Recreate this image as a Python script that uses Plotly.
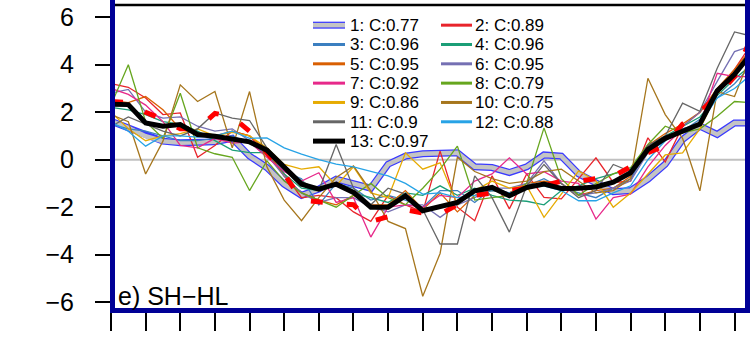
import plotly.graph_objects as go

# ---------------- data ----------------
x_index = list(range(38))

s1 = [1.62, 1.34, 0.99, 0.78, 0.71, 0.71, 0.75, 0.9, 0.15, -0.33, -1.03, -1.5, -1.24, -0.82, -1.03, -1.2,
      -0.19, 0.15, 0.25, 0.29, 0.29, -0.3, -0.33, -0.54, -0.3, 0.2, 0.15, -0.6, -1.0, -1.35, -1.3, -0.82,
      -0.19, 0.85, 1.41, 1.06, 1.55, 1.55]
s2 = [3.2, 3.05, 2.6, 1.9, 1.97, 0.1, 0.6, 1.2, 1.0, 0.2, -0.6, -1.6, -1.5, -1.6, -2.2, -2.6, -1.5, -1.9,
      -2.2, 0.36, -2.0, -2.57, -0.68, -2.07, -0.6, -1.59, -1.65, -0.8, 0.08, -0.96, -0.9, 0.92, -0.1, 1.4,
      2.0, 2.9, 3.8, 4.9]
s3 = [1.5, 1.3, 1.2, 1.0, 0.8, 0.8, 0.9, 1.0, 0.7, 0.2, -0.5, -0.8, -1.9, -1.0, -1.2, -1.7, -1.5, -1.7,
      -2.0, -1.3, -1.3, -1.8, -1.2, -1.4, -1.1, -0.8, -1.2, -1.4, -1.6, -1.2, -0.8, 0.4, 0.9, 1.2, 1.7,
      2.6, 3.2, 4.0]
s4 = [2.2, 2.1, 1.9, 1.6, 1.5, 1.2, 0.8, 0.4, 0.3, 0.3, -0.6, -1.2, -1.3, -1.0, -1.4, -1.6, -1.8, -1.4,
      -1.5, -1.1, -1.5, -1.2, -1.5, -1.7, -1.75, -1.9, -1.3, -1.1, -0.8, -0.6, -0.4, 0.6, 1.0, 1.4, 1.8,
      2.7, 3.4, 4.0]
s5 = [2.5, 2.4, 2.66, 2.1, 1.3, 1.1, 1.0, 1.2, 1.0, 0.4, -0.7, -1.4, -1.7, -1.9, -1.5, -1.9, -1.9, -1.3,
      -2.1, -1.4, -2.2, -1.5, -1.3, -1.4, -1.0, -0.9, -1.0, -1.5, -1.3, -1.2, -0.7, 0.6, 1.1, 1.5, 2.0,
      3.0, 3.8, 4.7]
s6 = [2.8, 2.96, 2.0, 1.75, 1.8, 1.41, 1.2, 1.3, 0.8, 0.2, -0.7, -1.4, -1.8, -1.6, -1.6, -2.0, -2.2, -1.9,
      -1.9, -2.43, -1.9, -1.6, -1.2, -1.2, -1.0, -0.05, -1.0, -1.5, -1.4, -1.2, -0.9, 0.3, 0.8, 1.4, 2.0,
      3.3, 4.55, 4.8]
s7 = [3.0, 2.75, 2.3, 1.6, 0.6, 0.5, 0.9, 0.7, 0.75, 0.1, -0.5, -0.9, -0.55, -1.8, -1.6, -3.26, -2.0, -1.9,
      -2.0, -1.5, -1.6, -0.9, -0.6, 0.08, -0.6, -0.5, -0.9, -1.0, -2.5, -1.6, -1.45, -0.3, 0.6, 1.3, 1.5,
      3.64, 3.5, 3.5]
s8 = [2.3, 4.0, 1.6, 0.9, 2.8, 0.5, 0.25, 0.1, -1.3, -0.05, -0.9, -1.4, -1.7, -2.0, -1.5, -1.0, -1.6, -1.9,
      -1.2, -0.4, 0.57, -1.7, -1.6, -1.5, -1.0, 1.34, -0.8, -1.5, -1.0, -0.6, -0.33, 0.64, 1.41, 1.13, 1.3,
      1.83, 2.45, 2.4]
s9 = [2.0, 1.3, 0.8, 1.0, 1.1, 1.3, 1.0, 1.15, 1.0, 0.5, -0.2, -0.4, -0.3, -1.1, -0.3, -1.4, -1.6, 0.29,
      -0.4, -0.13, -1.9, -1.3, -0.9, -1.2, -1.1, -2.43, -1.45, -0.47, -0.9, -2.0, -1.4, -0.6, 0.2, 0.29,
      1.3, 2.8, 3.6, 4.4]
s10 = [1.9, 1.6, -0.6, 0.78, 3.15, 2.45, 2.87, 0.5, 2.87, -0.3, -1.7, -2.57, -1.6, -0.75, -0.26, -1.31,
       -2.6, -2.9, -5.75, -3.95, 0.1, -0.5, -0.8, -1.0, -0.9, -0.5, -0.4, -0.9, -1.4, -1.3, -0.8, 3.43,
       1.9, 0.9, -1.31, 2.87, 2.66, 4.5]
s11 = [1.4, 1.8, 1.5, 1.2, 1.0, 1.3, 1.97, 1.75, 1.65, 0.5, -0.3, -0.9, -1.3, 0.64, -1.2, -1.9, -1.2, -1.45,
       -2.1, -3.55, -3.55, -0.68, -1.6, -3.05, -1.1, -0.2, -1.0, -1.6, -1.3, -0.2, -0.5, 0.6, 1.0, 2.38,
       2.04, 3.85, 5.38, 5.2]
s12 = [1.6, 1.2, 0.57, 1.0, 1.0, 0.95, 1.0, 1.2, 0.9, 0.92, 0.5, 0.23, 0.0, -0.19, -0.3, -0.5, -0.68, -1.0,
       -1.45, -1.4, -1.6, -1.5, -1.3, -1.4, -1.2, -1.1, -1.3, -1.73, -1.73, -1.4, -1.1, 0.0, 0.8, 1.3, 1.5,
       2.6, 3.0, 3.6]
s13 = [2.34, 2.32, 1.55, 1.41, 1.48, 1.06, 0.99, 0.85, 0.75, 0.4, -0.35, -1.03, -1.24, -1.03, -1.38, -2.0,
       -2.0, -1.52, -2.15, -2.0, -1.8, -1.31, -1.17, -1.52, -1.17, -1.03, -1.21, -1.2, -1.15, -0.95, -0.55,
       0.43, 0.9, 1.2, 1.5, 2.9, 3.6, 4.5]
obs = [2.45, 2.4, 2.0, 1.7, 1.3, 1.3, 1.95, 1.8, 1.2, 0.3, -0.6, -1.7, -1.8, -1.85, -1.9, -2.6, -2.4, -2.1,
       -2.25, -2.3, -1.9, -1.5, -1.4, -1.3, -1.2, -1.1, -0.9, -0.9, -0.8, -0.7, -0.3, 0.3, 0.6, 1.5, 2.0,
       2.7, 3.5, 5.2]

labels = ["1: C:0.77", "2: C:0.89", "3: C:0.96", "4: C:0.96", "5: C:0.95", "6: C:0.95", "7: C:0.92",
          "8: C:0.79", "9: C:0.86", "10: C:0.75", "11: C:0.9", "12: C:0.88", "13: C:0.97"]
thin_series = [s2, s3, s4, s5, s6, s7, s8, s9, s10, s11, s12]
thin_colors = ["#e8242b", "#3b7fc0", "#1b9e77", "#d95f02", "#7570b3", "#e7298a", "#66a61e",
               "#e6ab02", "#a6761d", "#666666", "#27a3e6"]
y_ticks = [-6, -4, -2, 0, 2, 4, 6]
x_ticks = list(range(0, 38, 2))
panel_label = "e) SH\u2212HL"

# ---------------- figure ----------------
W, H = 753, 346
L, R, T, B = 111, 6, 3, 35
PW, PH = W - L - R, H - T - B
FONT = "Liberation Sans, Arial, Helvetica, sans-serif"


def px(xp):
    return (xp - L) / PW


def py(yp):
    return (H - B - yp) / PH


fig = go.Figure()

# series 1: gray band with blue outline
fig.add_trace(go.Scatter(x=x_index, y=s1, mode="lines", line=dict(color="#3a3aff", width=7),
                         hoverinfo="skip", showlegend=False))
fig.add_trace(go.Scatter(x=x_index, y=s1, mode="lines", line=dict(color="#c4c4c4", width=4.5),
                         name=labels[0], showlegend=False))
for ser, col, lab in zip(thin_series, thin_colors, labels[1:12]):
    fig.add_trace(go.Scatter(x=x_index, y=ser, mode="lines", line=dict(color=col, width=1.3),
                             name=lab, showlegend=False))
fig.add_trace(go.Scatter(x=x_index, y=obs, mode="lines",
                         line=dict(color="#ff0000", width=5, dash="12px,24px"),
                         name="obs", showlegend=False))
fig.add_trace(go.Scatter(x=x_index, y=s13, mode="lines", line=dict(color="black", width=5),
                         name=labels[12], showlegend=False))

shapes = []
# zero line
shapes.append(dict(type="line", xref="paper", yref="y", x0=0, x1=1, y0=0, y1=0,
                   line=dict(color="#c0c0c0", width=2), layer="below"))
# top black line
shapes.append(dict(type="line", xref="paper", yref="paper", x0=0, x1=1, y0=1, y1=1,
                   line=dict(color="black", width=2.5)))
# blue frame
shapes.append(dict(type="rect", xref="paper", yref="paper", x0=px(112.5), x1=px(747.5),
                   y0=py(310.5), y1=1.3, line=dict(color="#000096", width=5)))

annotations = []
# legend (manual, two columns)
col_line = [(313, 345), (441, 472)]
col_text = [349, 474]
row0, drow = 23.3, 19.45
styles = [("band",), ("#e8242b",)] + [(c,) for c in thin_colors[1:]] + [("black",)]
for i, lab in enumerate(labels):
    c = i % 2
    r = i // 2
    yc = row0 + drow * r
    x0, x1 = col_line[c]
    st = styles[i][0]
    if st == "band":
        shapes.append(dict(type="line", xref="paper", yref="paper", x0=px(x0), x1=px(x1),
                           y0=py(yc), y1=py(yc), line=dict(color="#3a3aff", width=7)))
        shapes.append(dict(type="line", xref="paper", yref="paper", x0=px(x0), x1=px(x1),
                           y0=py(yc), y1=py(yc), line=dict(color="#c4c4c4", width=4.5)))
    elif st == "black":
        shapes.append(dict(type="line", xref="paper", yref="paper", x0=px(x0), x1=px(x1),
                           y0=py(yc), y1=py(yc), line=dict(color="black", width=5)))
    else:
        shapes.append(dict(type="line", xref="paper", yref="paper", x0=px(x0), x1=px(x1),
                           y0=py(yc), y1=py(yc), line=dict(color=st, width=3)))
    annotations.append(dict(xref="paper", yref="paper", x=px(col_text[c]), y=py(yc + 0.5),
                            xanchor="left", yanchor="middle", showarrow=False, text=lab,
                            font=dict(family=FONT, size=17, color="black"), borderpad=0))

annotations.append(dict(xref="paper", yref="paper", x=px(117), y=py(296), xanchor="left",
                        yanchor="middle", showarrow=False, text=panel_label,
                        font=dict(family=FONT, size=25, color="black"), borderpad=0))

fig.update_layout(
    width=W, height=H,
    margin=dict(l=L, r=R, t=T, b=B, pad=0),
    paper_bgcolor="white", plot_bgcolor="white",
    showlegend=False,
    shapes=shapes, annotations=annotations,
    font=dict(family=FONT, color="black"),
)
fig.update_xaxes(range=[0, PW / 17.32], tickvals=x_ticks, showticklabels=False,
                 ticks="outside", ticklen=19, tickwidth=2, tickcolor="black",
                 showgrid=False, zeroline=False, showline=False)
fig.update_yaxes(range=[-(H - B - 158.7) / 23.9, (158.7 - T) / 23.9], tickvals=y_ticks,
                 ticks="outside", ticklen=15, tickwidth=2, tickcolor="black",
                 tickfont=dict(family=FONT, size=25, color="black"), ticklabelstandoff=16,
                 showgrid=False, zeroline=False, showline=False)

fig.write_html("out.html")
